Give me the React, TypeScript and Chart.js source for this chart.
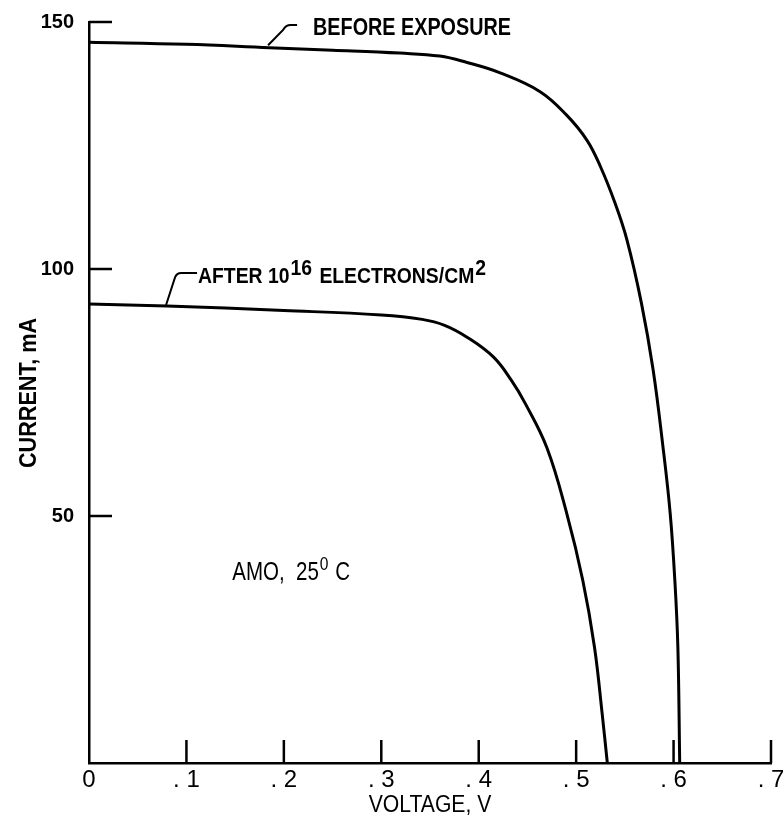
import React, { useEffect, useRef } from "react";
import { Chart, registerables } from "chart.js";

Chart.register(...registerables);

// ---- data ----
const xTicks = [0, 0.1, 0.2, 0.3, 0.4, 0.5, 0.6, 0.7];
const yTicks = [0, 50, 100, 150];

const beforeVoltage = [0, 0.1, 0.185, 0.25, 0.319, 0.36, 0.388, 0.422, 0.463, 0.49, 0.511, 0.525, 0.54, 0.552, 0.567, 0.579, 0.589, 0.5965, 0.6013, 0.6044, 0.6063];
const beforeCurrent = [145.9, 145.5, 144.8, 144.3, 143.7, 143.1, 141.8, 139.7, 135.9, 131.2, 126.1, 120.7, 113.3, 106.0, 93.1, 79.6, 64.2, 50.6, 37, 23.5, 0];

const afterVoltage = [0, 0.08, 0.2, 0.3, 0.342, 0.365, 0.388, 0.415, 0.4334, 0.448, 0.47, 0.4904, 0.5068, 0.5188, 0.5267, 0.532];
const afterCurrent = [92.9, 92.5, 91.6, 90.7, 89.8, 88.6, 86.2, 82.2, 77.5, 72.7, 63.8, 50.5, 37.0, 23.5, 10.0, 0];

const beforeLabel = "BEFORE EXPOSURE";
const afterLabelParts = ["AFTER 10", "16", " ELECTRONS/CM", "2"];
const conditionParts = ["AMO,  25", "0", " C"];
const xTitle = "VOLTAGE, V";
const yTitle = "CURRENT, mA";

const FONT = "'Liberation Sans', Arial, sans-serif";

function txt(ctx: CanvasRenderingContext2D, s: string, x: number, y: number, size: number, weight: string, sx: number, align: CanvasTextAlign = "left", baseline: CanvasTextBaseline = "alphabetic") {
  ctx.save();
  ctx.font = `${weight} ${size}px ${FONT}`;
  ctx.textAlign = align;
  ctx.textBaseline = baseline;
  ctx.fillStyle = "#000";
  ctx.translate(x, y);
  ctx.scale(sx, 1);
  ctx.fillText(s, 0, 0);
  const w = ctx.measureText(s).width * sx;
  ctx.restore();
  return w;
}

const overlay = {
  id: "overlay",
  afterDraw(chart: any) {
    const ctx: CanvasRenderingContext2D = chart.ctx;
    const xs = chart.scales.x;
    const ys = chart.scales.y;
    const px = (v: number) => xs.getPixelForValue(v);
    const py = (v: number) => ys.getPixelForValue(v);
    const left = chart.chartArea.left;
    const bottom = chart.chartArea.bottom;

    ctx.save();
    ctx.strokeStyle = "#000";
    ctx.lineWidth = 2.5;
    // inward tick marks
    yTicks.filter((v) => v > 0).forEach((v) => {
      ctx.beginPath();
      ctx.moveTo(left, py(v));
      ctx.lineTo(left + 23, py(v));
      ctx.stroke();
    });
    xTicks.filter((v) => v > 0).forEach((v) => {
      ctx.beginPath();
      ctx.moveTo(px(v), bottom);
      ctx.lineTo(px(v), bottom - 23);
      ctx.stroke();
    });

    // leaders
    ctx.lineWidth = 2;
    ctx.beginPath();
    ctx.moveTo(px(0.1838), py(145.3));
    ctx.lineTo(px(0.1992), py(148.4));
    ctx.quadraticCurveTo(px(0.202), py(149.4), px(0.207), py(149.4));
    ctx.lineTo(px(0.2136), py(149.4));
    ctx.stroke();

    ctx.beginPath();
    ctx.moveTo(px(0.0791), py(92.7));
    ctx.lineTo(px(0.0883), py(98.3));
    ctx.quadraticCurveTo(px(0.09), py(99.2), px(0.0945), py(99.2));
    ctx.lineTo(px(0.1109), py(99.2));
    ctx.stroke();
    ctx.restore();

    // annotations
    txt(ctx, beforeLabel, px(0.23), py(147.4), 23, "bold", 0.86);

    let x = px(0.1119);
    const yb = py(97.2);
    x += txt(ctx, afterLabelParts[0], x, yb, 22, "bold", 0.88);
    x += txt(ctx, afterLabelParts[1], x + 1, yb - 8, 22, "bold", 0.88) + 3;
    x += txt(ctx, afterLabelParts[2], x, yb, 22, "bold", 0.88);
    txt(ctx, afterLabelParts[3], x + 1, yb - 8, 22, "bold", 0.88);

    let cx = px(0.147);
    const cy = py(37.0);
    cx += txt(ctx, conditionParts[0], cx, cy, 25, "normal", 0.82);
    cx += txt(ctx, conditionParts[1], cx + 1, cy - 10, 19, "normal", 0.82) + 2;
    txt(ctx, conditionParts[2], cx, cy, 25, "normal", 0.82);

    // axis titles
    txt(ctx, xTitle, 430, 806, 23, "normal", 0.92, "center", "middle");
    ctx.save();
    ctx.translate(29, 393);
    ctx.rotate(-Math.PI / 2);
    txt(ctx, yTitle, 0, 0, 24, "bold", 0.9, "center", "middle");
    ctx.restore();
  },
};

export default function App() {
  const ref = useRef<HTMLCanvasElement>(null);
  useEffect(() => {
    if (!ref.current) return;
    const chart = new Chart(ref.current, {
      type: "scatter",
      data: {
        datasets: [
          {
            label: beforeLabel,
            data: beforeVoltage.map((v, i) => ({ x: v, y: beforeCurrent[i] })),
            showLine: true,
            borderColor: "#000",
            borderWidth: 3,
            pointRadius: 0,
            tension: 0.4,
          },
          {
            label: "AFTER 10^16 ELECTRONS/CM^2",
            data: afterVoltage.map((v, i) => ({ x: v, y: afterCurrent[i] })),
            showLine: true,
            borderColor: "#000",
            borderWidth: 3,
            pointRadius: 0,
            tension: 0.4,
          },
        ],
      },
      options: {
        animation: false,
        responsive: false,
        layout: { padding: { left: 0, right: 12, top: 22, bottom: 0 } },
        plugins: { legend: { display: false }, tooltip: { enabled: false } },
        scales: {
          x: {
            type: "linear",
            min: 0,
            max: 0.7,
            afterBuildTicks: (s: any) => { s.ticks = xTicks.map((v) => ({ value: v })); },
            afterFit: (s: any) => { s.height = 59; },
            grid: { display: false },
            border: { display: true, color: "#000", width: 2.5 },
            ticks: {
              color: "#000",
              padding: -5,
              font: { family: FONT, size: 24 },
              callback: (v: any) => (Number(v) === 0 ? "0" : Number(v).toFixed(1).replace("0.", ". ")),
            },
          },
          y: {
            type: "linear",
            min: 0,
            max: 150,
            afterBuildTicks: (s: any) => { s.ticks = yTicks.map((v) => ({ value: v })); },
            afterFit: (s: any) => { s.width = 89; },
            grid: { display: false },
            border: { display: true, color: "#000", width: 2.5 },
            ticks: {
              color: "#000",
              padding: 7,
              font: { family: FONT, size: 20, weight: "bold" },
              callback: (v: any) => (Number(v) === 0 ? "" : String(v)),
            },
          },
        },
      },
      plugins: [overlay],
    } as any);
    return () => chart.destroy();
  }, []);
  return (
    <div style={{ position: "absolute", left: 0, top: 0, width: 783, height: 822, background: "#fff" }}>
      <canvas ref={ref} width={783} height={822} style={{ display: "block" }} />
    </div>
  );
}
